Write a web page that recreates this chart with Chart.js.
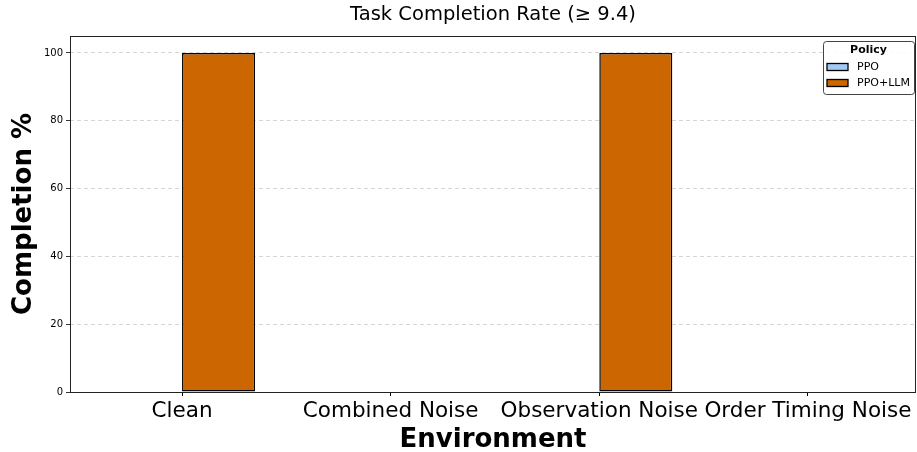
<!DOCTYPE html>
<html>
<head>
<meta charset="utf-8">
<script src="https://cdn.jsdelivr.net/npm/chart.js@4/dist/chart.umd.min.js"></script>
<style>
  body { margin: 0; background: #fff; }
  canvas { display: block; }
</style>
</head>
<body>
<canvas id="myChart" width="917" height="452"></canvas>
<script>
const environments = ["Clean", "Combined Noise", "Observation Noise", "Order Timing Noise"];
const policyNames = ["PPO", "PPO+LLM"];
const ppoRates = [0, 0, 0, 0];
const ppoLlmRates = [100, 0, 100, 0];
const yTicks = [0, 20, 40, 60, 80, 100];

const font = "'DejaVu Sans', sans-serif";

// matplotlib-like x limits (-0.54 .. 3.52) instead of Chart.js's half-category offset
const xLimits = {
  id: "xLimits",
  afterLayout(chart) {
    const x = chart.scales.x;
    x._startValue = -0.537;
    x._valueRange = 4.055;
  }
};

// box around the plot, title over the plot and a matplotlib-style legend
const extras = {
  id: "extras",
  afterDatasetsDraw(chart) {
    const ctx = chart.ctx;
    const a = chart.chartArea;
    ctx.save();
    ctx.strokeStyle = "#222";
    ctx.lineWidth = 1;
    ctx.strokeRect(a.left + 0.5, a.top + 0.5, a.right - a.left - 1, a.bottom - a.top);

    ctx.fillStyle = "#000";
    ctx.font = "19.5px " + font;
    ctx.textAlign = "center";
    ctx.textBaseline = "middle";
    ctx.fillText("Task Completion Rate (\u2265 9.4)", (a.left + a.right) / 2, 15);

    // legend
    const lx = 823, ly = 41, lw = 91, lh = 53;
    ctx.fillStyle = "rgba(255,255,255,0.85)";
    ctx.strokeStyle = "#444";
    ctx.beginPath();
    ctx.roundRect(lx + 0.5, ly + 0.5, lw, lh, 3);
    ctx.fill();
    ctx.stroke();
    ctx.fillStyle = "#000";
    ctx.font = "bold 11px " + font;
    ctx.fillText("Policy", lx + lw / 2, ly + 9);
    ctx.font = "11px " + font;
    ctx.textAlign = "left";
    chart.data.datasets.forEach((ds, i) => {
      const y = ly + 26 + i * 16;
      ctx.fillStyle = ds.backgroundColor;
      ctx.fillRect(lx + 4, y - 3.5, 21, 7);
      ctx.strokeStyle = "#000";
      ctx.lineWidth = 1.3;
      ctx.strokeRect(lx + 4, y - 3.5, 21, 7);
      ctx.fillStyle = "#000";
      ctx.fillText(ds.label, lx + 34, y);
    });
    ctx.restore();
  }
};

const ctx = document.getElementById("myChart").getContext("2d");
const myChart = new Chart(ctx, {
  type: "bar",
  data: {
    labels: environments,
    datasets: [
      {
        label: policyNames[0],
        data: ppoRates,
        backgroundColor: "#a1c9f4",
        borderColor: "#000",
        borderWidth: 1.5,
        borderSkipped: false,
        barPercentage: 1,
        categoryPercentage: 0.7,
      },
      {
        label: policyNames[1],
        data: ppoLlmRates,
        backgroundColor: "#cc6600",
        borderColor: "#000",
        borderWidth: 1.5,
        borderSkipped: false,
        barPercentage: 1,
        categoryPercentage: 0.7,
      },
    ],
  },
  options: {
    responsive: false,
    animation: false,
    layout: { padding: { top: 36, right: 1, left: 0, bottom: 0 } },
    plugins: {
      legend: { display: false },
      title: { display: false },
      tooltip: { enabled: false },
    },
    scales: {
      x: {
        grid: { offset: false, drawOnChartArea: false, drawTicks: true, tickLength: 4, color: "#000" },
        border: { display: false },
        ticks: { color: "#000", font: { family: font, size: 21.5 }, padding: 3, maxRotation: 0, autoSkip: false },
        title: { display: true, text: "Environment", color: "#000", font: { family: font, size: 26, weight: "bold", lineHeight: 0.9 }, padding: 0 },
        afterFit(scale) { scale.height = 60; },
      },
      y: {
        min: 0,
        max: 105,
        afterBuildTicks(scale) { scale.ticks = yTicks.map(v => ({ value: v })); },
        grid: {
          color: "#cccccc",
          lineWidth: 0.8,
          tickColor: "#000",
          tickLength: 4,
          tickBorderDash: [],
        },
        border: { display: false, dash: [4, 3] },
        ticks: { color: "#000", font: { family: font, size: 10 }, padding: 3 },
        title: { display: true, text: "Completion %", color: "#000", font: { family: font, size: 26, weight: "bold" }, padding: { top: 9, bottom: 0 } },
        afterFit(scale) { scale.width = 70; },
      },
    },
  },
  plugins: [xLimits, extras],
});
</script>
</body>
</html>
